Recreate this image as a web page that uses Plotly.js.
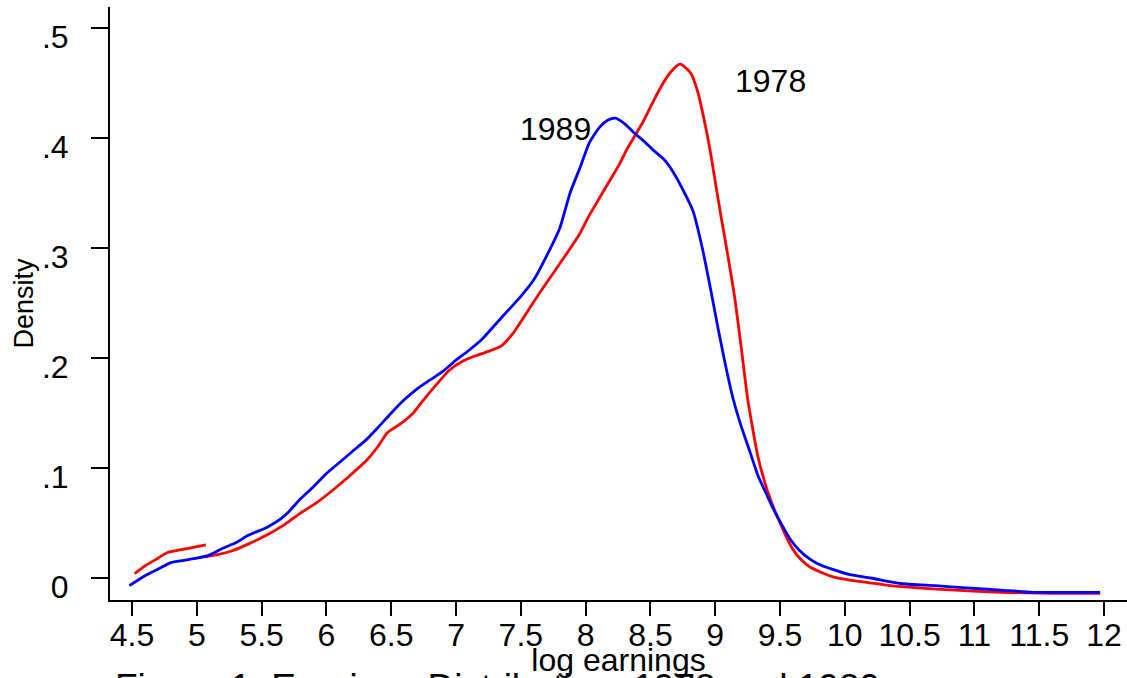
<!DOCTYPE html>
<html>
<head>
<meta charset="utf-8">
<script src="https://cdn.plot.ly/plotly-3.0.1.min.js"></script>
<style>
  html, body { margin: 0; padding: 0; background: #fff; }
  #chart { width: 1127px; height: 678px; }
</style>
</head>
<body>
<div id="chart"></div>
<script>
// 1989 density of log earnings
const logEarn1989 = [4.48, 4.6, 4.7, 4.8, 4.9, 5.0, 5.1, 5.2, 5.3, 5.4, 5.54, 5.65, 5.7, 5.8, 5.9, 6.0, 6.1, 6.2, 6.31, 6.4, 6.5, 6.6, 6.7, 6.8, 6.9, 7.0, 7.1, 7.2, 7.3, 7.4, 7.5, 7.6, 7.7, 7.8, 7.88, 7.96, 8.03, 8.11, 8.17, 8.23, 8.3, 8.37, 8.45, 8.52, 8.6, 8.67, 8.75, 8.83, 8.9, 8.96, 9.02, 9.08, 9.14, 9.2, 9.27, 9.33, 9.4, 9.46, 9.52, 9.58, 9.65, 9.72, 9.79, 9.9, 10.04, 10.2, 10.43, 10.7, 10.94, 11.2, 11.45, 11.7, 11.97];
const density1989 = [-0.007, 0.002, 0.008, 0.014, 0.016, 0.018, 0.021, 0.027, 0.032, 0.039, 0.046, 0.054, 0.059, 0.072, 0.083, 0.095, 0.105, 0.115, 0.126, 0.137, 0.150, 0.162, 0.172, 0.180, 0.188, 0.198, 0.207, 0.217, 0.230, 0.243, 0.256, 0.271, 0.293, 0.318, 0.350, 0.374, 0.396, 0.410, 0.416, 0.418, 0.413, 0.405, 0.397, 0.389, 0.381, 0.370, 0.353, 0.333, 0.300, 0.265, 0.228, 0.193, 0.162, 0.138, 0.114, 0.093, 0.075, 0.060, 0.047, 0.035, 0.025, 0.018, 0.013, 0.008, 0.003, 0.000, -0.005, -0.007, -0.009, -0.011, -0.013, -0.013, -0.013];

// 1978 density of log earnings (two pieces; null marks the break)
const logEarn1978 = [4.52, 4.6, 4.7, 4.77, 4.89, 4.98, 5.07, null, 5.05, 5.15, 5.28, 5.4, 5.54, 5.67, 5.8, 5.93, 6.05, 6.18, 6.31, 6.4, 6.47, 6.57, 6.67, 6.75, 6.85, 6.95, 7.05, 7.15, 7.25, 7.35, 7.45, 7.55, 7.65, 7.75, 7.86, 7.95, 8.03, 8.11, 8.19, 8.26, 8.32, 8.38, 8.44, 8.5, 8.57, 8.65, 8.73, 8.81, 8.86, 8.91, 8.96, 9.01, 9.05, 9.09, 9.15, 9.2, 9.25, 9.29, 9.33, 9.4, 9.45, 9.5, 9.55, 9.6, 9.66, 9.73, 9.82, 9.91, 10.04, 10.17, 10.35, 10.56, 10.85, 11.2, 11.6, 11.97];
const density1978 = [0.004, 0.011, 0.018, 0.023, 0.026, 0.028, 0.030, null, 0.019, 0.021, 0.025, 0.031, 0.039, 0.048, 0.059, 0.069, 0.080, 0.093, 0.107, 0.120, 0.132, 0.140, 0.150, 0.162, 0.176, 0.189, 0.197, 0.202, 0.206, 0.211, 0.224, 0.242, 0.260, 0.277, 0.296, 0.312, 0.330, 0.346, 0.362, 0.376, 0.390, 0.402, 0.414, 0.428, 0.444, 0.459, 0.467, 0.459, 0.444, 0.419, 0.389, 0.353, 0.325, 0.298, 0.255, 0.210, 0.163, 0.135, 0.110, 0.080, 0.064, 0.050, 0.037, 0.026, 0.017, 0.010, 0.005, 0.001, -0.002, -0.004, -0.007, -0.009, -0.011, -0.013, -0.014, -0.014];

const xTickVals = [4.5, 5, 5.5, 6, 6.5, 7, 7.5, 8, 8.5, 9, 9.5, 10, 10.5, 11, 11.5, 12];
const xTickText = ["4.5", "5", "5.5", "6", "6.5", "7", "7.5", "8", "8.5", "9", "9.5", "10", "10.5", "11", "11.5", "12"];
const yTickVals = [0, 0.1, 0.2, 0.3, 0.4, 0.5];
const yTickText = ["0", ".1", ".2", ".3", ".4", ".5"];

const FONT = "'Liberation Sans', Arial, Helvetica, sans-serif";

const traces = [
  { x: logEarn1978, y: density1978, type: 'scatter', mode: 'lines', name: '1978',
    connectgaps: false, line: { color: '#ff0000', width: 2.8, shape: 'spline', smoothing: 0.6 }, hoverinfo: 'x+y' },
  { x: logEarn1989, y: density1989, type: 'scatter', mode: 'lines', name: '1989',
    line: { color: '#0000ff', width: 2.8, shape: 'spline', smoothing: 0.6 }, hoverinfo: 'x+y' }
];

const layout = {
  width: 1127, height: 678,
  margin: { l: 110, r: 0, t: 7, b: 78, pad: 0 },
  paper_bgcolor: '#ffffff', plot_bgcolor: '#ffffff',
  showlegend: false,
  font: { family: FONT, color: '#000000', size: 32 },
  xaxis: {
    range: [4.330, 12.177], showgrid: false, zeroline: false,
    showline: true, linecolor: '#000', linewidth: 2,
    ticks: 'outside', ticklen: 14, tickwidth: 2, tickcolor: '#000',
    tickvals: xTickVals, ticktext: xTickText, ticklabelstandoff: -8,
    tickfont: { family: FONT, size: 32, color: '#000' },
    title: { text: 'log earnings', font: { family: FONT, size: 32, color: '#000' }, standoff: 0 },
    automargin: false, fixedrange: true
  },
  yaxis: {
    range: [-0.02, 0.519], showgrid: false, zeroline: false,
    showline: true, linecolor: '#000', linewidth: 2,
    ticks: 'outside', ticklen: 17, tickwidth: 2, tickcolor: '#000',
    tickvals: yTickVals, ticktext: yTickText, ticklabelstandoff: 16, ticklabelshift: 9,
    tickfont: { family: FONT, size: 32, color: '#000' },
    title: { text: 'Density', font: { family: FONT, size: 27, color: '#000' }, standoff: 0 },
    automargin: false, fixedrange: true
  },
  annotations: [
    { x: 7.77, y: 0.408, xref: 'x', yref: 'y', text: '1989', showarrow: false,
      font: { family: FONT, size: 32, color: '#000' }, xanchor: 'center', yanchor: 'middle' },
    { x: 9.43, y: 0.452, xref: 'x', yref: 'y', text: '1978', showarrow: false,
      font: { family: FONT, size: 32, color: '#000' }, xanchor: 'center', yanchor: 'middle' },
    { x: 0.003, y: -0.148, xref: 'paper', yref: 'paper', text: 'Figure 1: Earnings Distribution, 1978 and 1989',
      showarrow: false, font: { family: FONT, size: 37, color: '#000' }, xanchor: 'left', yanchor: 'middle' }
  ]
};

Plotly.newPlot('chart', traces, layout, { displayModeBar: false, staticPlot: true });
</script>
</body>
</html>
